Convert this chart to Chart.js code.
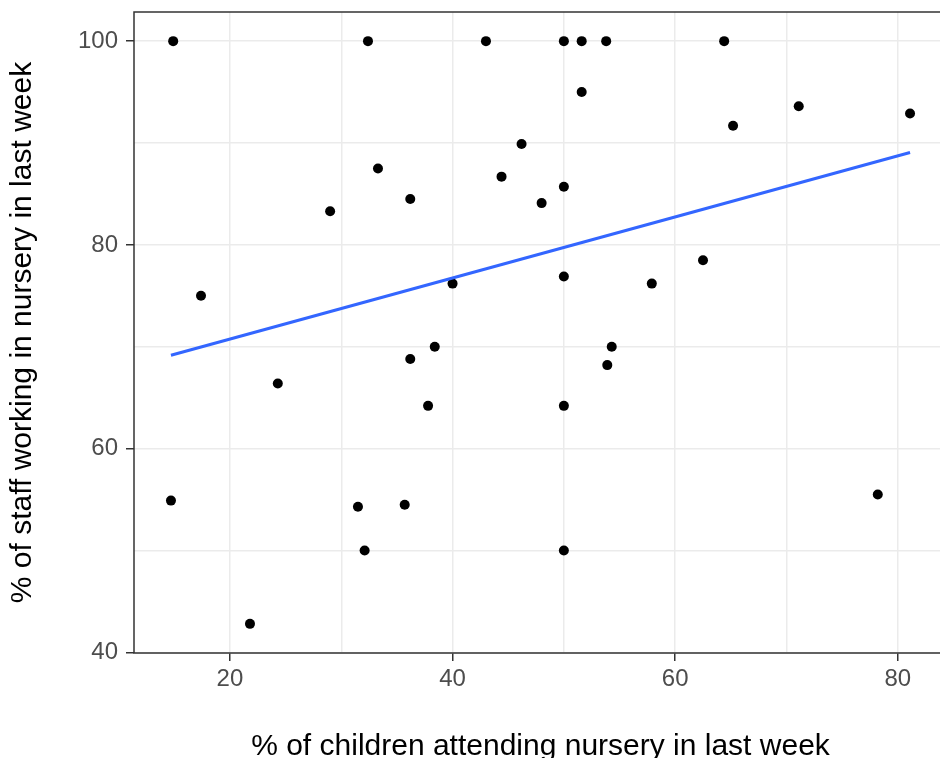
<!DOCTYPE html>
<html>
<head>
<meta charset="utf-8">
<script src="https://cdn.jsdelivr.net/npm/chart.js@4/dist/chart.umd.min.js"></script>
<style>
  html, body { margin: 0; padding: 0; background: #ffffff; overflow: hidden; width: 940px; height: 758px; }
  #wrap { position: absolute; left: 0; top: 0; width: 952px; height: 767px; }
  canvas { display: block; }
</style>
</head>
<body>
<div id="wrap"><canvas id="c" width="952" height="767"></canvas></div>
<script>
// % of children attending nursery in last week
const childrenPct = [14.9, 32.4, 33.3, 29.0, 17.4, 43.0, 50.0, 51.6, 53.8, 51.6,
                     46.2, 44.4, 50.0, 48.0, 36.2, 40.0, 50.0, 57.9, 64.4, 71.1,
                     81.1, 65.2, 62.5, 24.3, 14.7, 31.5, 32.1, 21.8, 35.7, 38.4,
                     36.2, 37.8, 54.3, 53.9, 50.0, 50.0, 78.2];
// % of staff working in nursery in last week
const staffPct    = [100, 100, 87.5, 83.3, 75.0, 100, 100, 100, 100, 95.0,
                     89.9, 86.7, 85.7, 84.1, 84.5, 76.2, 76.9, 76.2, 100, 93.6,
                     92.9, 91.7, 78.5, 66.4, 54.9, 54.3, 50.0, 42.8, 54.5, 70.0,
                     68.8, 64.2, 70.0, 68.2, 64.2, 50.0, 55.5];
const xTickValues = [20, 30, 40, 50, 60, 70, 80];
const yTickValues = [40, 50, 60, 70, 80, 90, 100];
const xMajor = [20, 40, 60, 80];
const yMajor = [40, 60, 80, 100];
const xTitle = '% of children attending nursery in last week';
const yTitle = '% of staff working in nursery in last week';

// points
const points = childrenPct.map((x, i) => ({ x: x, y: staffPct[i] }));

// least-squares fit (geom_smooth method = "lm")
const n = childrenPct.length;
const mx = childrenPct.reduce((a, b) => a + b, 0) / n;
const my = staffPct.reduce((a, b) => a + b, 0) / n;
let sxy = 0, sxx = 0;
for (let i = 0; i < n; i++) {
  sxy += (childrenPct[i] - mx) * (staffPct[i] - my);
  sxx += (childrenPct[i] - mx) ** 2;
}
const slope = sxy / sxx;
const intercept = my - slope * mx;
const xMin = Math.min(...childrenPct), xMax = Math.max(...childrenPct);
const fitLine = [xMin, xMax].map(x => ({ x: x, y: intercept + slope * x }));

// ggplot-like 5% expansion
const yMinD = Math.min(...staffPct), yMaxD = Math.max(...staffPct);
const xPad = (xMax - xMin) * 0.05, yPad = (yMaxD - yMinD) * 0.05;

const FONT = '"Liberation Sans", Arial, sans-serif';

const panelBorder = {
  id: 'panelBorder',
  afterDatasetsDraw(chart) {
    const { ctx, chartArea: a } = chart;
    ctx.save();
    ctx.strokeStyle = '#333333';
    ctx.lineWidth = 1.5;
    ctx.strokeRect(a.left, a.top, a.right - a.left, a.bottom - a.top);
    ctx.restore();
  }
};

new Chart(document.getElementById('c'), {
  type: 'scatter',
  data: {
    datasets: [
      {
        data: fitLine,
        showLine: true,
        borderColor: '#3366FF',
        borderWidth: 3,
        pointRadius: 0,
        pointHoverRadius: 0,
        fill: false
      },
      {
        data: points,
        backgroundColor: '#000000',
        borderWidth: 0,
        pointRadius: 5,
        pointHoverRadius: 5
      }
    ]
  },
  options: {
    responsive: false,
    animation: false,
    devicePixelRatio: 1,
    layout: { padding: { top: 12, left: 0, right: 0, bottom: 0 } },
    plugins: { legend: { display: false }, tooltip: { enabled: false } },
    scales: {
      x: {
        type: 'linear',
        min: xMin - xPad,
        max: xMax + xPad,
        afterBuildTicks: s => { s.ticks = xTickValues.map(v => ({ value: v })); },
        afterFit: s => { s.height = 114; s.paddingLeft = 0; s.paddingRight = 0; },
        ticks: {
          autoSkip: false,
          maxRotation: 0,
          padding: 4,
          color: '#4d4d4d',
          font: { family: FONT, size: 24 },
          callback: v => xMajor.includes(v) ? String(v) : ''
        },
        grid: {
          color: '#ebebeb',
          lineWidth: 1.5,
          drawTicks: true,
          tickLength: 8,
          tickWidth: 1.5,
          tickColor: c => (c.tick && xMajor.includes(c.tick.value)) ? '#333333' : 'rgba(0,0,0,0)'
        },
        border: { display: false },
        title: {
          display: true,
          text: xTitle,
          color: '#000000',
          font: { family: FONT, size: 30 },
          padding: { top: 0, bottom: 2 }
        }
      },
      y: {
        type: 'linear',
        min: yMinD - yPad,
        max: yMaxD + yPad,
        afterBuildTicks: s => { s.ticks = yTickValues.map(v => ({ value: v })); },
        afterFit: s => { s.width = 134; s.paddingTop = 0; s.paddingBottom = 0; },
        ticks: {
          autoSkip: false,
          padding: 8,
          color: '#4d4d4d',
          font: { family: FONT, size: 24 },
          callback: v => yMajor.includes(v) ? String(v) : ''
        },
        grid: {
          color: '#ebebeb',
          lineWidth: 1.5,
          drawTicks: true,
          tickLength: 8,
          tickWidth: 1.5,
          tickColor: c => (c.tick && yMajor.includes(c.tick.value)) ? '#333333' : 'rgba(0,0,0,0)'
        },
        border: { display: false },
        title: {
          display: true,
          text: yTitle,
          color: '#000000',
          font: { family: FONT, size: 30 },
          padding: { top: 5, bottom: 0 }
        }
      }
    }
  },
  plugins: [panelBorder]
});
</script>
</body>
</html>
